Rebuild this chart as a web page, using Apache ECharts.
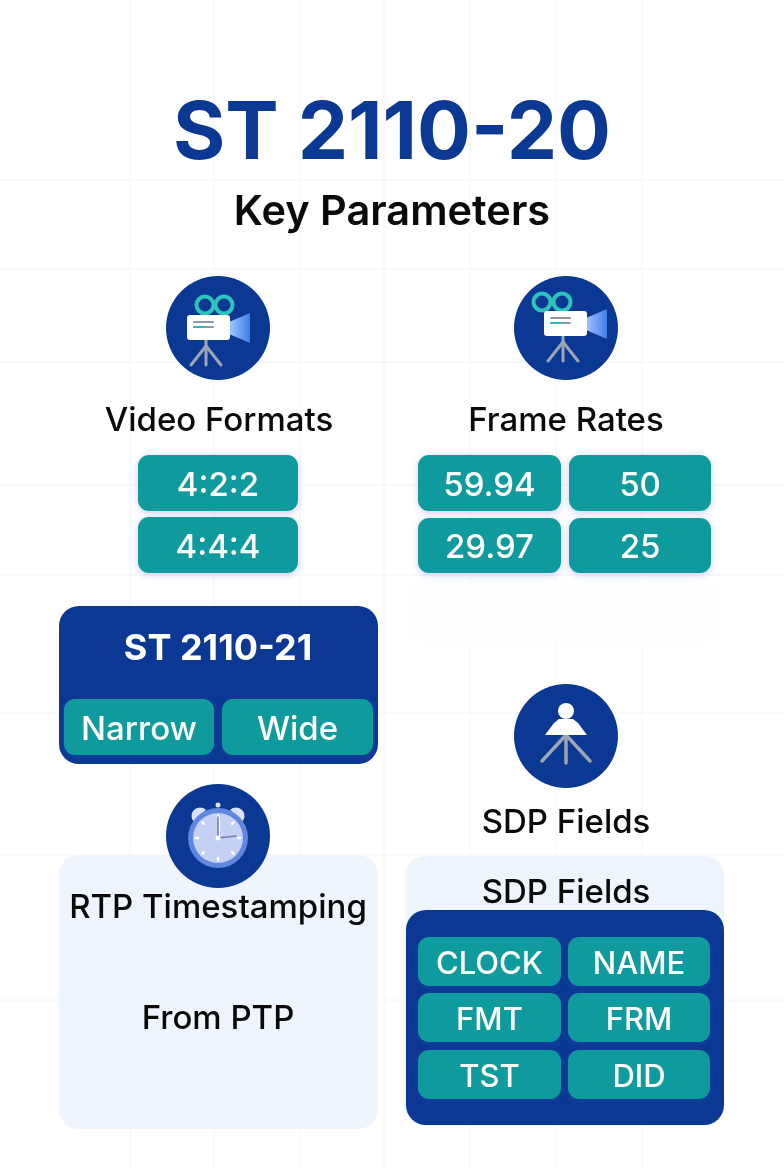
<!DOCTYPE html>
<html>
<head>
<meta charset="utf-8">
<title>ST 2110-20</title>
<script src="https://cdn.jsdelivr.net/npm/echarts@6/dist/echarts.min.js"></script>
<style>
  html, body { margin: 0; padding: 0; background: #fff; }
  #main { width: 784px; height: 1168px; }
</style>
</head>
<body>
<div id="main"></div>
<script>
// 文字内容
const titleText = 'ST 2110-20'
const subtitleText = 'Key Parameters'
const videoTitle = 'Video Formats'
const videoFormats = ['4:2:2', '4:4:4']
const rateTitle = 'Frame Rates'
const frameRates = ['59.94', '50', '29.97', '25']
const bandTitle = 'ST 2110-21'
const bandTypes = ['Narrow', 'Wide']
const sdpTitle = 'SDP Fields'
const sdpFields = ['CLOCK', 'NAME', 'FMT', 'FRM', 'TST', 'DID']
const rtpTitle = 'RTP Timestamping'
const rtpSource = 'From PTP'

// 背景网格
const gridX = [130, 214, 300, 384, 470, 556, 642]
const gridY = [180, 269, 362, 485, 575, 713, 855, 1000]

const BLUE = '#0a3892'
const TEAL = '#0f9a9e'
const PANEL = '#eef5fc'
const GREY = '#9ba5b6'
const FONT = 'Inter, "Noto Sans", sans-serif'

const els = []

const text = function (str, x, y, size, color, weight) {
  els.push({
    type: 'text', z: 20,
    style: {
      text: str, x, y: y + 4, fill: color, font: (weight || 500) + ' ' + size + 'px ' + FONT,
      align: 'center', verticalAlign: 'middle', textAlign: 'center', textVerticalAlign: 'middle'
    }
  })
}

const box = function (x, y, w, h, r, fill, shadow, z) {
  const style = { fill }
  if (shadow) {
    style.shadowBlur = shadow
    style.shadowColor = 'rgba(70,90,200,0.28)'
    style.shadowOffsetY = 2
  }
  els.push({ type: 'rect', z: z || 5, shape: { x, y, width: w, height: h, r }, style })
}

// 青色按钮
const pill = function (str, x0, x1, y0, y1, size) {
  box(x0, y0, x1 - x0, y1 - y0, 11, TEAL, 7, 8)
  text(str, (x0 + x1) / 2, (y0 + y1) / 2 - 1, size, '#fff', 500)
}

const line = function (x1, y1, x2, y2, color, width, z) {
  els.push({
    type: 'line', z: z === undefined ? 12 : z,
    shape: { x1, y1, x2, y2 },
    style: { stroke: color, lineWidth: width, lineCap: 'round' }
  })
}

const dot = function (cx, cy, r, fill, z) {
  els.push({ type: 'circle', z: z || 12, shape: { cx, cy, r }, style: { fill } })
}

const poly = function (points, fill, z) {
  els.push({ type: 'polygon', z: z || 12, shape: { points }, style: { fill } })
}

const iconBase = function (cx, cy) {
  els.push({
    type: 'circle', z: 10, shape: { cx, cy, r: 52 },
    style: { fill: BLUE }
  })
}

// 摄像机图标
const camera = function (cx, cy, bodyX, bodyY, reelA, reelB, reelY) {
  iconBase(cx, cy)
  const coneGrad = new echarts.graphic.LinearGradient(0, 0, 1, 0, [
    { offset: 0, color: '#a3c6ff' }, { offset: 1, color: '#3f7fe8' }
  ])
  const sx = bodyX + 19
  const bottom = bodyY + 25
  line(sx, bottom, sx, bottom + 25, GREY, 3)
  line(sx, bottom + 6, sx - 15, bottom + 25, GREY, 3)
  line(sx, bottom + 6, sx + 15, bottom + 25, GREY, 3)
  ;[reelA, reelB].forEach(x => {
    els.push({
      type: 'circle', z: 12, shape: { cx: x, cy: reelY, r: 8.5 },
      style: { fill: 'none', stroke: '#2cc4bd', lineWidth: 4 }
    })
  })
  poly([[bodyX + 42, bodyY + 7], [bodyX + 63, bodyY - 2], [bodyX + 63, bodyY + 28], [bodyX + 42, bodyY + 19]], coneGrad)
  els.push({ type: 'rect', z: 13, shape: { x: bodyX, y: bodyY, width: 43, height: 25, r: 3 }, style: { fill: '#fff' } })
  line(bodyX + 7, bodyY + 7, bodyX + 26, bodyY + 7, '#8d97a8', 2, 14)
  line(bodyX + 7, bodyY + 12, bodyX + 26, bodyY + 12, '#8d97a8', 2, 14)
  line(bodyX + 7, bodyY + 12, bodyX + 17, bodyY + 12, '#25bcc0', 2, 15)
}

// 时钟图标
const clock = function (cx, cy) {
  iconBase(cx, cy)
  const fy = cy + 2
  // 铃铛和顶部小圆点
  els.push({ type: 'sector', z: 12, shape: { cx: cx - 18, cy: fy - 22, r0: 0, r: 8.5, startAngle: Math.PI * 0.95, endAngle: Math.PI * 1.95 }, rotation: 0.65, originX: cx - 18, originY: fy - 22, style: { fill: '#d8e2fb' } })
  els.push({ type: 'sector', z: 12, shape: { cx: cx + 18, cy: fy - 22, r0: 0, r: 8.5, startAngle: Math.PI * 1.05, endAngle: Math.PI * 2.05 }, rotation: -0.65, originX: cx + 18, originY: fy - 22, style: { fill: '#d8e2fb' } })
  dot(cx, fy - 33, 2.5, '#dfe7fb')
  dot(cx, fy, 30, '#5f87de', 13)
  dot(cx, fy, 25, '#c6cff4', 14)
  for (let i = 0; i < 8; i++) {
    const a = i * Math.PI / 4
    const c = Math.cos(a), s = Math.sin(a)
    line(cx + c * 20, fy + s * 20, cx + c * 22, fy + s * 22, '#fff', 2.5, 15)
  }
  line(cx, fy, cx, fy - 21, '#6f7fa8', 1.5, 16)
  line(cx + 1.5, fy, cx + 1.5, fy - 21, '#fff', 1, 16)
  line(cx, fy, cx + 18, fy - 2, '#6f7fa8', 1.5, 16)
  dot(cx, fy, 2.5, '#fff', 17)
}

// SDP 图标
const person = function (cx, cy) {
  iconBase(cx, cy)
  line(cx, cy - 1, cx, cy + 27, GREY, 3.5)
  line(cx, cy - 1, cx - 24, cy + 25, GREY, 3.5)
  line(cx, cy - 1, cx + 24, cy + 25, GREY, 3.5)
  dot(cx, cy - 25, 8, '#fff', 14)
  poly([[cx - 21, cy - 1], [cx + 21, cy - 1], [cx + 12, cy - 13], [cx + 7, cy - 17], [cx - 7, cy - 17], [cx - 12, cy - 13]], '#fff', 13)
}

// 背景网格
gridX.forEach(x => line(x, 0, x, 1168, '#eef6fb', 1, 0))
gridY.forEach(y => line(0, y, 784, y, '#eef6fb', 1, 0))

// 标题
text(titleText, 392, 131, 80, '#0a3892', 700)
text(subtitleText, 392, 209, 41.5, '#0a0a0a', 600)

// 视频格式
camera(218, 328, 187, 315, 205, 224, 305)
text(videoTitle, 219, 417, 33, '#0a0a0a', 500)
pill(videoFormats[0], 138, 298, 455, 511, 33)
pill(videoFormats[1], 138, 298, 517, 573, 33)

// 帧率
camera(566, 328, 544, 311, 542, 562, 302)
text(rateTitle, 566, 417, 33, '#0a0a0a', 500)
pill(frameRates[0], 418, 561, 455, 511, 33)
pill(frameRates[1], 569, 711, 455, 511, 33)
pill(frameRates[2], 418, 561, 518, 573, 33)
pill(frameRates[3], 569, 711, 518, 573, 33)

// 右侧淡色空白块
box(405, 580, 319, 65, 20, '#fcfeff', 0, 1)

// ST 2110-21
box(59, 606, 319, 158, 20, BLUE)
text(bandTitle, 218, 645, 36, '#fff', 700)
pill(bandTypes[0], 64, 214, 699, 755, 33)
pill(bandTypes[1], 222, 373, 699, 755, 33)

// SDP
person(566, 736)
text(sdpTitle, 566, 819, 33, '#0a0a0a', 500)
box(405, 856, 319, 270, 20, PANEL)
text(sdpTitle, 566, 889, 33, '#0a0a0a', 500)
box(406, 910, 318, 215, 20, BLUE, 0, 6)
const sdpX = [[418, 561], [568, 710]]
const sdpY = [[937, 986], [993, 1042], [1050, 1099]]
sdpFields.forEach((f, i) => {
  const col = sdpX[i % 2]
  const row = sdpY[Math.floor(i / 2)]
  pill(f, col[0], col[1], row[0], row[1], 31)
})

// RTP
box(59, 855, 319, 274, 20, PANEL)
clock(218, 836)
text(rtpTitle, 218, 904, 33, '#0a0a0a', 500)
text(rtpSource, 218, 1015, 33, '#0a0a0a', 500)

const chart = echarts.init(document.getElementById('main'), null, { renderer: 'canvas', width: 784, height: 1168 })
chart.setOption({
  backgroundColor: '#ffffff',
  animation: false,
  graphic: { elements: els }
})
</script>
</body>
</html>
